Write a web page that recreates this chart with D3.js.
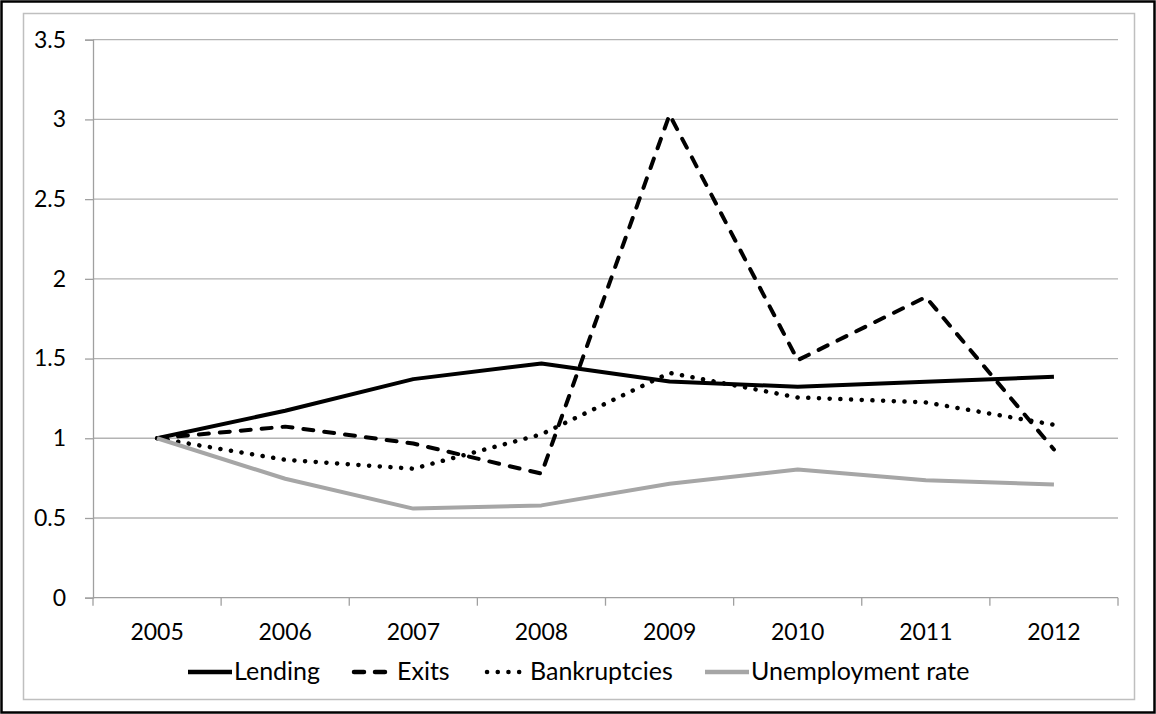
<!DOCTYPE html>
<html>
<head>
<meta charset="utf-8">
<script src="https://cdn.jsdelivr.net/npm/d3@7"></script>
<style>
    body { margin: 0; background: #fff; }
    text { font-family: Lato, "Open Sans", sans-serif; fill: #000; }
</style>
</head>
<body>
<svg id="chart"></svg>
<script>
// data
var years = ["2005", "2006", "2007", "2008", "2009", "2010", "2011", "2012"];
var lending = [1, 1.173, 1.371, 1.469, 1.356, 1.323, 1.354, 1.386];
var exits = [1, 1.073, 0.967, 0.778, 3.03, 1.49, 1.886, 0.93];
var bankruptcies = [1, 0.865, 0.809, 1.025, 1.41, 1.256, 1.225, 1.085];
var unemployment = [1, 0.746, 0.559, 0.579, 0.715, 0.804, 0.736, 0.71];
var yTicks = [0, 0.5, 1, 1.5, 2, 2.5, 3, 3.5];
var seriesNames = ["Lending", "Exits", "Bankruptcies", "Unemployment rate"];

var W = 1156, H = 714;
var plot = { left: 93, right: 1118, top: 39.7, bottom: 597.7 };

var series = [
    { name: seriesNames[0], values: lending, color: "#000", dash: null },
    { name: seriesNames[1], values: exits, color: "#000", dash: "10,11" },
    { name: seriesNames[2], values: bankruptcies, color: "#000", dash: "0.1,10.6" },
    { name: seriesNames[3], values: unemployment, color: "#a6a6a6", dash: null }
];

var svg = d3.select("#chart").attr("width", W).attr("height", H);

//outer and inner frames
svg.append("rect").attr("x", 1.5).attr("y", 1.5).attr("width", W - 3).attr("height", H - 3)
    .style("fill", "none").style("stroke", "#000").style("stroke-width", 2.5);
svg.append("rect").attr("x", 23.5).attr("y", 13.5).attr("width", 1111).attr("height", 686)
    .style("fill", "none").style("stroke", "#bfbfbf").style("stroke-width", 1.5);

var xBand = d3.scaleBand().domain(years).range([plot.left, plot.right]);
var xPoint = d3.scalePoint().domain(years).range([plot.left, plot.right]).padding(0.5);
var y = d3.scaleLinear().domain([0, 3.5]).range([plot.bottom, plot.top]);

//gridlines
svg.append("g").selectAll("line")
    .data(yTicks.filter(function(d) { return d > 0; }))
    .enter().append("line")
    .attr("x1", plot.left).attr("x2", plot.right)
    .attr("y1", function(d) { return y(d); }).attr("y2", function(d) { return y(d); })
    .style("stroke", "#b3b3b3").style("stroke-width", 1.3);

//y axis
var yAxis = svg.append("g").attr("transform", "translate(" + plot.left + ",0)")
    .call(d3.axisLeft(y).tickValues(yTicks).tickSize(8).tickPadding(19)
        .tickFormat(function(d) { return d; }));
yAxis.select(".domain").style("stroke", "#a0a0a0").style("stroke-width", 1.3);
yAxis.selectAll(".tick line").style("stroke", "#a0a0a0").style("stroke-width", 1.3);
yAxis.selectAll(".tick text").style("font-size", "23px").style("font-family", "Lato, sans-serif");

//x axis, ticks between categories
var xAxis = svg.append("g").attr("transform", "translate(0," + plot.bottom + ")");
xAxis.append("line").attr("x1", plot.left).attr("x2", plot.right)
    .style("stroke", "#a0a0a0").style("stroke-width", 1.3);
xAxis.selectAll(".xtick")
    .data(years.concat(["end"]))
    .enter().append("line")
    .attr("x1", function(d, i) { return i < years.length ? xBand(d) : plot.right; })
    .attr("x2", function(d, i) { return i < years.length ? xBand(d) : plot.right; })
    .attr("y1", 0).attr("y2", 8)
    .style("stroke", "#a0a0a0").style("stroke-width", 1.3);
xAxis.selectAll(".xlabel")
    .data(years)
    .enter().append("text")
    .attr("x", function(d) { return xPoint(d); })
    .attr("y", 42)
    .attr("text-anchor", "middle")
    .style("font-size", "23px")
    .text(function(d) { return d; });

//lines
var line = d3.line()
    .x(function(d, i) { return xPoint(years[i]); })
    .y(function(d) { return y(d); });

svg.append("g").selectAll("path")
    .data(series)
    .enter().append("path")
    .attr("d", function(d) { return line(d.values); })
    .style("fill", "none")
    .style("stroke", function(d) { return d.color; })
    .style("stroke-width", function(d) { return d.dash === "0.1,10.6" ? 4.5 : 4; })
    .style("stroke-linejoin", "round")
    .style("stroke-linecap", function(d) { return d.dash ? "round" : "butt"; })
    .style("stroke-dasharray", function(d) { return d.dash; });

//legend
var legendX = [188, 352, 485, 705];
var legendY = 672;
var legend = svg.append("g").selectAll("g")
    .data(series)
    .enter().append("g")
    .attr("transform", function(d, i) { return "translate(" + legendX[i] + "," + legendY + ")"; });
legend.append("line")
    .attr("x1", function(d) { return d.dash ? 2 : 0; })
    .attr("x2", function(d) { return d.dash ? 40 : 44; })
    .style("stroke", function(d) { return d.color; })
    .style("stroke-width", 4.5)
    .style("stroke-linecap", function(d) { return d.dash ? "round" : "butt"; })
    .style("stroke-dasharray", function(d) { return d.dash; });
legend.append("text")
    .attr("x", function(d) { return d.dash ? 45 : 46; })
    .attr("y", 8)
    .style("font-size", "25px")
    .text(function(d) { return d.name; });
</script>
</body>
</html>
